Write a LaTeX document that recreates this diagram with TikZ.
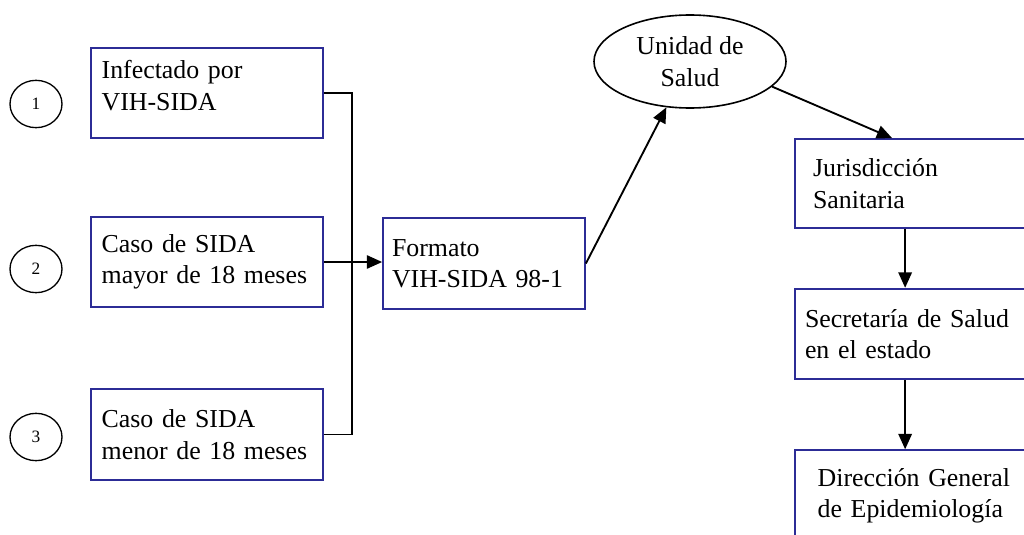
\documentclass[tikz,border=0pt]{standalone}
\usepackage{fontspec}
\setmainfont{Liberation Serif}
\usetikzlibrary{shapes.geometric, arrows.meta}
\definecolor{boxblue}{RGB}{44,44,150}

\tikzset{
    box/.style={draw=boxblue, line width=1.3pt, align=left, minimum height=68pt,
        font=\fontsize{19.4}{23.5}\selectfont},
    numcirc/.style={draw, ellipse, line width=1pt, minimum width=39pt,
        minimum height=35.5pt, inner sep=0pt, font=\fontsize{13}{15}\selectfont},
    wire/.style={line width=1.4pt},
    arr/.style={wire, -{Triangle[length=11.5pt, width=10pt]}}
}

\begin{document}
\begin{tikzpicture}[x=0.75pt, y=-0.75pt]
    \useasboundingbox (0,0) rectangle (1024,535);
    \clip (0,0) rectangle (1024,535);

    \node (C1) [numcirc] at (36,104) {1};
    \node (C2) [numcirc] at (36,269) {2};
    \node (C3) [numcirc] at (36,437) {3};

    \node (B1) [box, inner xsep=8pt, text width=158pt,
        execute at end node={\par\vspace{11pt}}] at (207,93) {Infectado por\\VIH-SIDA};
    \node (B2) [box, inner xsep=8pt, text width=158pt] at (207,262) {Caso de SIDA\\mayor de 18 meses};
    \node (B3) [box, inner xsep=8pt, text width=158pt] at (207,434.5) {Caso de SIDA\\menor de 18 meses};

    \node (F) [box, inner xsep=6.75pt, text width=138pt] at (484,263.5) {Formato\\VIH-SIDA 98-1};

    \node (U) [draw, ellipse, line width=1.2pt, minimum width=144pt, minimum height=69.75pt,
        inner sep=0pt, align=center, font=\fontsize{19.4}{23.5}\selectfont] at (690,61.5) {Unidad de\\Salud};

    \node (J) [box, minimum height=66.75pt, inner xsep=13.5pt, text width=168pt] at (925,183.5) {Jurisdicción\\Sanitaria};
    \node (S) [box, inner xsep=7.5pt, text width=180pt] at (925,334) {Secretaría de Salud\\en el estado};
    \node (D) [box, inner xsep=17pt, text width=161pt] at (925,495.5) {Dirección General\\de Epidemiología};

    \coordinate (bus) at (352,0);
    \draw[wire] (B1.east) -- (B1.east -| bus) -- (B3.east -| bus) -- (B3.east);
    \path
        (B2.east) edge[arr] (B2.east -| F.west)
        (F.east) edge[arr] (U)
        (U.-17) edge[arr] ([xshift=73.5pt]J.north west)
        ([xshift=83.25pt]J.south west) edge[arr] ([xshift=83.25pt]S.north west)
        ([xshift=83.25pt]S.south west) edge[arr] ([xshift=83.25pt]D.north west);
\end{tikzpicture}
\end{document}
